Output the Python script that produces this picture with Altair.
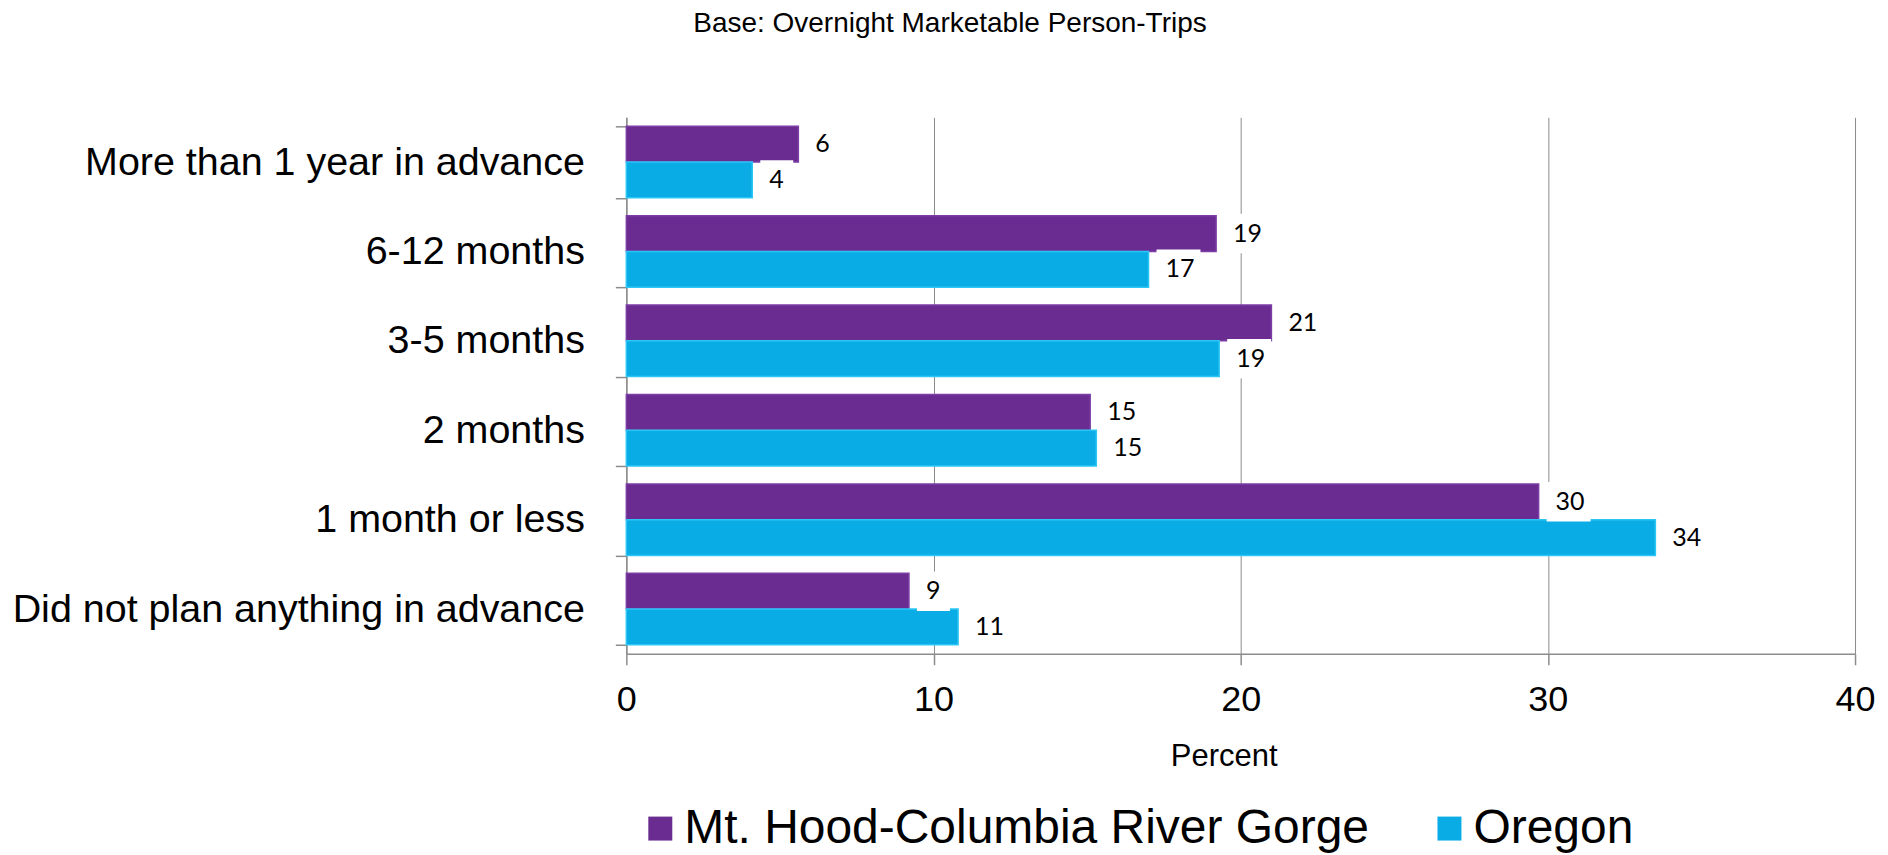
import altair as alt
import pandas as pd

# ---- data ----
categories = [
    "More than 1 year in advance",
    "6-12 months",
    "3-5 months",
    "2 months",
    "1 month or less",
    "Did not plan anything in advance",
]
series_names = ["Mt. Hood-Columbia River Gorge", "Oregon"]
gorge_values = [5.6, 19.2, 21.0, 15.1, 29.7, 9.2]
oregon_values = [4.1, 17.0, 19.3, 15.3, 33.5, 10.8]
x_ticks = [0, 10, 20, 30, 40]

fill_colors = ["#6A2C91", "#0AACE6"]
edge_colors = ["#7C3DA6", "#2CC6F5"]

rows = []
for cat, g, o in zip(categories, gorge_values, oregon_values):
    rows.append({"category": cat, "series": series_names[0], "value": g})
    rows.append({"category": cat, "series": series_names[1], "value": o})
df = pd.DataFrame(rows)

FONT = "Liberation Sans, Arial, Helvetica, sans-serif"
GRAY = "#8c8c8c"

x_enc = alt.X(
    "value:Q",
    scale=alt.Scale(domain=[0, 40], nice=False),
    axis=alt.Axis(
        values=x_ticks,
        title="Percent",
        grid=True,
        gridColor=GRAY,
        gridWidth=1,
        tickSize=11,
        tickColor=GRAY,
        tickWidth=1.5,
        domainColor=GRAY,
        domainWidth=1.5,
        labelFont=FONT,
        labelFontSize=36,
        labelColor="black",
        labelPadding=18,
        labelFlush=False,
        titleFont=FONT,
        titleFontSize=31,
        titleFontWeight="normal",
        titleColor="black",
        titleX=598,
        titleY=112,
        titleBaseline="alphabetic",
        titleAlign="center",
    ),
)

y_enc = alt.Y(
    "category:N",
    sort=categories,
    scale=alt.Scale(paddingInner=0.2, paddingOuter=0.1),
    axis=alt.Axis(
        title=None,
        tickBand="extent",
        grid=False,
        tickSize=11,
        tickColor=GRAY,
        tickWidth=1.5,
        domainColor=GRAY,
        domainWidth=1.5,
        labelFont=FONT,
        labelFontSize=39.5,
        labelColor="black",
        labelPadding=31,
        labelLimit=0,
    ),
)

yoff_enc = alt.YOffset(
    "series:N", sort=series_names, scale=alt.Scale(domain=series_names, paddingInner=0, paddingOuter=0)
)

bars = alt.Chart().mark_bar(strokeWidth=1.5).encode(
    x=x_enc,
    y=y_enc,
    yOffset=yoff_enc,
    color=alt.Color(
        "series:N",
        sort=series_names,
        scale=alt.Scale(domain=series_names, range=fill_colors),
        legend=alt.Legend(
            title=None,
            orient="none",
            legendX=10,
            legendY=688,
            direction="horizontal",
            symbolType="square",
            symbolSize=576,
            symbolStrokeWidth=0,
            symbolOpacity=1,
            labelFont=FONT,
            labelFontSize=48,
            labelColor="black",
            labelOffset=0,
            labelLimit=0,
            columnPadding=56,
            padding=0,
        ),
    ),
    stroke=alt.Stroke(
        "series:N", scale=alt.Scale(domain=series_names, range=edge_colors), legend=None
    ),
)

box_one = "M0,-0.9L1.5,-0.9L1.5,0.9L0,0.9Z"
box_two = "M0,-0.9L2,-0.9L2,0.9L0,0.9Z"

boxes = (
    alt.Chart()
    .transform_calculate(digits="length(format(datum.value, '.0f')) > 1 ? 'two' : 'one'")
    .mark_point(filled=True, color="white", opacity=1, size=1936, xOffset=8, strokeWidth=0)
    .encode(
        x=x_enc,
        y=y_enc,
        yOffset=yoff_enc,
        shape=alt.Shape(
            "digits:N", scale=alt.Scale(domain=["one", "two"], range=[box_one, box_two]), legend=None
        ),
    )
)

labels = alt.Chart().mark_text(
    align="left", baseline="middle", dx=17, fontSize=25, font="Lato", color="black"
).encode(
    x=x_enc,
    y=y_enc,
    yOffset=yoff_enc,
    text=alt.Text("value:Q", format=".0f"),
)

chart = (
    alt.layer(bars, boxes, labels, data=df)
    .properties(
        width=1230,
        height=537,
        autosize=alt.AutoSizeParams(type="none"),
        padding={"left": 619, "top": 109, "right": 25, "bottom": 201},
        title=alt.TitleParams(
            text="Base: Overnight Marketable Person-Trips",
            font=FONT,
            fontSize=28,
            fontWeight="normal",
            color="black",
            anchor="middle",
            dx=-291,
            offset=59,
        ),
    )
    .configure_view(stroke=None)
)

chart.save("out.html", embed_options={"renderer": "svg", "actions": False})
